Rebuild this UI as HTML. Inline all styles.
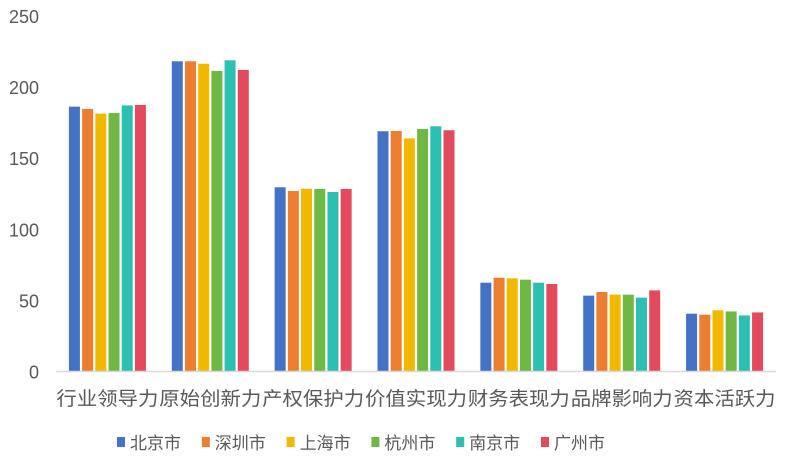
<!DOCTYPE html>
<html><head><meta charset="utf-8"><style>
html,body{margin:0;padding:0;background:#fff}
svg{display:block;font-family:"Liberation Sans","Noto Sans CJK SC",sans-serif}
</style></head><body>
<svg id="chart" width="790" height="468" viewBox="0 0 790 468" xmlns="http://www.w3.org/2000/svg"></svg>
<script>
const categories = ["行业领导力","原始创新力","产权保护力","价值实现力","财务表现力","品牌影响力","资本活跃力"];
const seriesNames = ["北京市","深圳市","上海市","杭州市","南京市","广州市"];
const seriesColors = ["#4472C4","#ED7D31","#F2B800","#70B844","#2CBFB2","#E34A5E"];
const beijing  = [186.6,218.5,129.9,169.3,62.8,53.7,41.0];
const shenzhen = [185.0,218.5,127.3,169.5,66.3,56.3,40.3];
const shanghai = [181.7,216.8,128.9,164.3,65.9,54.4,43.4];
const hangzhou = [182.1,211.7,128.7,170.9,64.9,54.4,42.6];
const nanjing  = [187.5,219.2,126.6,172.8,62.8,52.3,39.8];
const guangzhou= [187.8,212.4,128.7,170.0,61.9,57.4,41.9];
const yTicks = [0,50,100,150,200,250];

const series = [beijing,shenzhen,shanghai,hangzhou,nanjing,guangzhou];
const NS="http://www.w3.org/2000/svg";
const svg=document.getElementById('chart');
const left=56,right=776,y0=372,yTop=16.5,vMax=250;
const groupW=(right-left)/categories.length;
function yScale(v){return y0-(v/vMax)*(y0-yTop);}
function xGroup(i){return left+groupW*(i+0.5);}
function mk(tag,attrs){const e=document.createElementNS(NS,tag);for(const k in attrs)e.setAttribute(k,attrs[k]);svg.appendChild(e);return e;}

yTicks.forEach(t=>{
  const e=mk('text',{x:39,y:yScale(t)+6.5,'text-anchor':'end','font-size':'18','fill':'#595959'});
  e.textContent=t;
  
  
});

const pitch=13.2,bw=11;
series.forEach((s,si)=>{
  s.forEach((v,ci)=>{
    const x=xGroup(ci)-3*pitch+si*pitch+(pitch-bw)/2;
    const r=mk('rect',{x:x,y:yScale(v),width:bw,height:y0-yScale(v),fill:seriesColors[si]});
    
    
  });
});

const ax=mk('line',{x1:left,x2:right,y1:y0-0.5,y2:y0-0.5,stroke:'#D9D9D9','stroke-width':'1.5'});



categories.forEach((c,i)=>{
  const e=mk('text',{x:xGroup(i),y:405,'text-anchor':'middle','font-size':'19','fill':'#595959',textLength:'102',lengthAdjust:'spacingAndGlyphs'});
  e.textContent=c;
  
  
});

seriesNames.forEach((n,i)=>{
  const x=117+i*84.8;
  const r=mk('rect',{x:x,y:437,width:8,height:10,fill:seriesColors[i]});
  
  
  const t=mk('text',{x:x+13,y:449,'font-size':'17','fill':'#595959'});
  t.textContent=n;
  
  
});
</script>
</body></html>
